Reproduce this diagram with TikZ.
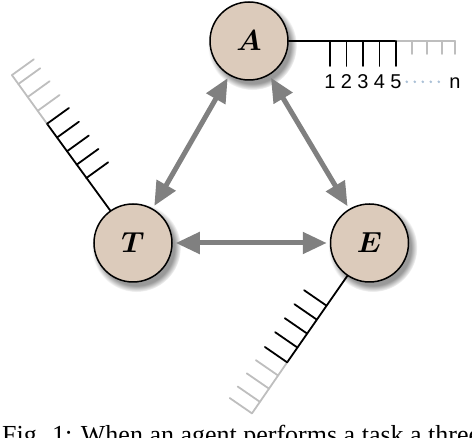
\RequirePackage{fix-cm}
\documentclass[tikz,border=0pt]{standalone}
\usepackage{amsmath}
\usepackage{fontspec}
\newfontfamily\capfont{Liberation Serif}
\newfontfamily\tickfont{Liberation Sans}
\usepackage{tikz}
\usetikzlibrary{positioning, arrows.meta, shadows}

\definecolor{discfill}{RGB}{220,203,187}
\definecolor{linkgray}{RGB}{128,128,128}
\definecolor{fadedgray}{RGB}{190,190,190}
\definecolor{dotblue}{RGB}{170,192,214}

\begin{document}
\begin{tikzpicture}[x=1pt, y=1pt, node distance=157pt,
    agent/.style={draw, circle, line width=1.5pt, fill=discfill, minimum size=78pt, inner sep=0pt,
        font=\fontsize{29}{33}\selectfont,
        circular drop shadow={shadow xshift=3pt, shadow yshift=-4pt, shadow scale=1.14, opacity=.8}},
    link/.style={line width=5pt, draw=linkgray, shorten <=3pt, shorten >=3pt,
        {Triangle[length=24pt, width=21pt]}-{Triangle[length=24pt, width=21pt]}},
    tick/.style={line width=1.8pt, line cap=round},
    faded/.style={tick, draw=fadedgray},
    digit/.style={font=\tickfont\fontsize{20}{22}\selectfont, inner sep=1pt, anchor=base,
        text height=14.3pt, text depth=0pt},
  ]
    \useasboundingbox (0,0) rectangle (472,-438);
    \clip (0,0) rectangle (472,-438);

    % the three parties
    \node [agent] (A) at (249,-41) {$\boldsymbol{A}$};
    \node [agent] (T) at (133,-243) {$\boldsymbol{T}$};
    \node [agent, right=of T] (E) {$\boldsymbol{E}$};

    \draw [link] (A) -- (T);
    \draw [link] (A) -- (E);
    \draw [link] (T) -- (E);

    % time line of A, numbered
    \begin{scope}[shift={(A.center)}]
        \draw [tick] (A.east) -- (147,0);
        \draw [faded] (147,0) -- (206,0);
        \foreach \d [count=\i] in {81,97.5,114,130.5,147} {
            \draw [tick] (\d,0) -- (\d,-25);
            \node [digit] (l\i) at (\d,-48) {\i};
        }
        \foreach \d in {163,178,193,206}
            \draw [faded] (\d,0) -- (\d,-13);
        \node [digit] (ln) at (206,-48) {n};
    \end{scope}
    \draw [dotblue, line width=2.8pt, line cap=round, dash pattern=on 0pt off 8pt,
        shorten <=4pt, shorten >=4pt] (l5) -- (ln);

    % time line of T
    \begin{scope}[shift={(T.center)}, rotate=125.8]
        \draw [tick] (T.125.8) -- (147,0);
        \draw [faded] (147,0) -- (207,0);
        \foreach \d in {80,96.5,113,130,147}
            \draw [tick] (\d,0) -- (\d,-27);
        \foreach \d in {163,180,196,207}
            \draw [faded] (\d,0) -- (\d,-27);
    \end{scope}

    % time line of E
    \begin{scope}[shift={(E.center)}, rotate=-124.6]
        \draw [tick] (E.-124.6) -- (145,0);
        \draw [faded] (145,0) -- (207,0);
        \foreach \d in {76,93,110,127,145}
            \draw [tick] (\d,0) -- (\d,-27);
        \foreach \d in {161,177,193,207}
            \draw [faded] (\d,0) -- (\d,-27);
    \end{scope}

    \node [anchor=base west, inner sep=0pt, font=\capfont\fontsize{26}{30}\selectfont]
        (caption) at (2,-444) {Fig. 1: When an agent performs a task a three};
\end{tikzpicture}
\end{document}
